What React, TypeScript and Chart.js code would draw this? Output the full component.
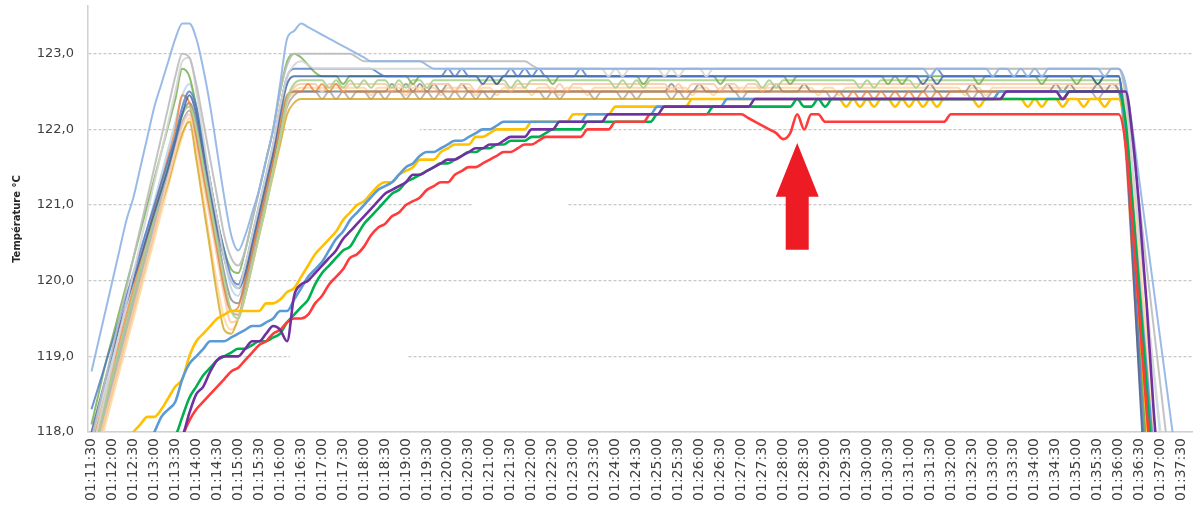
import React, { useEffect, useRef } from 'react';
import { Chart, registerables } from 'chart.js';

Chart.register(...registerables);

// ---------- categories (10 s samples, 01:11:30 -> 01:37:40) ----------
const startSec = 1 * 3600 + 11 * 60 + 30;
const timeLabels: string[] = Array.from({ length: 158 }, (_, i) => {
  const t = startSec + i * 10;
  const h = Math.floor(t / 3600);
  const m = Math.floor((t % 3600) / 60);
  const s = t % 60;
  const p = (n: number) => String(n).padStart(2, '0');
  return `${p(h)}:${p(m)}:${p(s)}`;
});

const yTicks = [118, 119, 120, 121, 122, 123];

// ---------- thin sensor series ----------
const sLightBlue = [
  118.8,119.2,119.6,120.0,120.4,120.8,121.1,121.5,121.9,122.3,
  122.6,122.9,123.2,123.4,123.4,123.2,122.8,122.3,121.7,121.1,
  120.6,120.4,120.6,120.9,121.2,121.6,122.0,122.6,123.2,123.3,
  123.4,123.35,123.3,123.25,123.2,123.15,123.1,123.05,123.0,122.95,
  122.9,122.9,122.9,122.9,122.9,122.9,122.9,122.9,122.85,122.8,
  122.8,122.8,122.8,122.8,122.8,122.8,122.8,122.8,122.8,122.8,
  122.8,122.8,122.8,122.8,122.8,122.8,122.8,122.8,122.8,122.8,
  122.8,122.8,122.8,122.8,122.8,122.8,122.8,122.8,122.8,122.8,
  122.8,122.8,122.8,122.8,122.8,122.8,122.8,122.8,122.8,122.8,
  122.8,122.8,122.8,122.8,122.8,122.8,122.8,122.8,122.8,122.8,
  122.8,122.8,122.8,122.8,122.8,122.8,122.8,122.8,122.8,122.8,
  122.8,122.8,122.8,122.8,122.8,122.8,122.8,122.8,122.8,122.8,
  122.7,122.8,122.8,122.8,122.8,122.8,122.8,122.8,122.8,122.7,
  122.8,122.8,122.7,122.8,122.7,122.8,122.7,122.8,122.8,122.8,
  122.8,122.8,122.8,122.8,122.8,122.7,122.8,122.8,122.6,122.0,
  121.3,120.6,119.9,119.2,118.5,117.8,117.1,116.4,
];
const sGrey = [
  117.9,118.3,118.7,119.1,119.5,119.9,120.3,120.7,121.1,121.5,
  121.9,122.3,122.7,123.0,122.95,122.6,122.1,121.6,121.1,120.6,
  120.3,120.2,120.4,120.8,121.2,121.6,122.0,122.5,122.85,123.0,
  123.0,123.0,123.0,123.0,123.0,123.0,123.0,123.0,122.95,122.9,
  122.9,122.9,122.9,122.9,122.9,122.9,122.9,122.9,122.9,122.9,
  122.9,122.9,122.9,122.9,122.9,122.9,122.9,122.9,122.9,122.9,
  122.9,122.9,122.9,122.85,122.8,122.8,122.8,122.8,122.8,122.8,
  122.8,122.8,122.8,122.8,122.8,122.8,122.8,122.8,122.8,122.8,
  122.8,122.8,122.8,122.8,122.8,122.8,122.8,122.8,122.8,122.8,
  122.8,122.8,122.8,122.8,122.8,122.8,122.8,122.8,122.8,122.8,
  122.8,122.8,122.8,122.8,122.8,122.8,122.8,122.8,122.8,122.8,
  122.8,122.8,122.8,122.8,122.8,122.8,122.8,122.8,122.8,122.8,
  122.8,122.8,122.8,122.8,122.8,122.8,122.8,122.8,122.8,122.8,
  122.8,122.8,122.8,122.8,122.8,122.8,122.8,122.8,122.8,122.8,
  122.8,122.8,122.8,122.8,122.8,122.8,122.8,122.8,122.5,121.8,
  121.0,120.2,119.4,118.6,117.8,117.0,116.2,115.4,
];
const sLightGrey = [
  117.7,118.1,118.5,118.9,119.3,119.7,120.1,120.5,120.9,121.3,
  121.7,122.1,122.5,122.9,122.95,122.5,121.9,121.3,120.8,120.3,
  120.0,119.9,120.2,120.6,121.0,121.4,121.8,122.3,122.7,122.85,
  122.9,122.85,122.8,122.8,122.8,122.8,122.8,122.8,122.8,122.8,
  122.8,122.8,122.8,122.8,122.8,122.8,122.8,122.8,122.8,122.8,
  122.8,122.8,122.8,122.8,122.8,122.8,122.8,122.8,122.8,122.8,
  122.8,122.8,122.8,122.8,122.8,122.8,122.8,122.8,122.8,122.8,
  122.8,122.8,122.8,122.8,122.7,122.8,122.7,122.8,122.8,122.8,
  122.8,122.8,122.7,122.8,122.7,122.8,122.8,122.8,122.7,122.8,
  122.8,122.8,122.8,122.8,122.8,122.8,122.8,122.8,122.8,122.8,
  122.8,122.8,122.8,122.8,122.8,122.8,122.8,122.8,122.8,122.8,
  122.8,122.8,122.8,122.8,122.8,122.8,122.8,122.8,122.8,122.8,
  122.8,122.8,122.8,122.8,122.8,122.8,122.8,122.8,122.8,122.8,
  122.8,122.8,122.8,122.8,122.8,122.8,122.8,122.8,122.8,122.8,
  122.8,122.8,122.8,122.8,122.8,122.8,122.8,122.8,122.4,121.5,
  120.6,119.7,118.85,118.0,117.1,116.2,115.3,114.4,
];
const sBlue = [
  118.3,118.6,118.9,119.2,119.5,119.8,120.1,120.4,120.7,121.0,
  121.3,121.6,121.9,122.3,122.5,122.3,121.8,121.3,120.8,120.4,
  120.05,119.95,120.2,120.6,121.0,121.4,121.8,122.3,122.7,122.8,
  122.8,122.8,122.8,122.8,122.8,122.8,122.8,122.8,122.8,122.8,
  122.8,122.75,122.7,122.7,122.7,122.7,122.7,122.7,122.7,122.7,
  122.7,122.8,122.7,122.8,122.7,122.7,122.7,122.7,122.7,122.7,
  122.8,122.7,122.8,122.7,122.8,122.7,122.7,122.7,122.7,122.7,
  122.8,122.7,122.7,122.7,122.7,122.7,122.7,122.7,122.7,122.7,
  122.7,122.7,122.7,122.7,122.7,122.7,122.7,122.7,122.7,122.7,
  122.7,122.7,122.7,122.7,122.7,122.7,122.7,122.7,122.7,122.7,
  122.7,122.7,122.7,122.7,122.7,122.7,122.7,122.7,122.7,122.7,
  122.7,122.7,122.7,122.7,122.7,122.7,122.7,122.7,122.7,122.7,
  122.7,122.8,122.7,122.7,122.7,122.7,122.7,122.7,122.7,122.7,
  122.7,122.7,122.7,122.7,122.7,122.7,122.7,122.7,122.7,122.7,
  122.7,122.7,122.7,122.7,122.7,122.7,122.7,122.7,121.9,120.5,
  118.9,117.3,116.0,115.0,114.5,114.0,113.5,113.0,
];
const sDarkBlue = [
  118.0,118.35,118.7,119.05,119.4,119.7,120.0,120.3,120.6,120.9,
  121.2,121.5,121.85,122.2,122.45,122.2,121.7,121.2,120.7,120.3,
  120.0,119.9,120.1,120.5,120.9,121.3,121.7,122.2,122.6,122.7,
  122.7,122.7,122.7,122.7,122.7,122.7,122.7,122.7,122.7,122.7,
  122.7,122.7,122.7,122.7,122.7,122.7,122.7,122.7,122.7,122.7,
  122.7,122.7,122.7,122.7,122.7,122.7,122.6,122.7,122.6,122.7,
  122.7,122.7,122.7,122.7,122.7,122.7,122.7,122.7,122.7,122.7,
  122.7,122.7,122.7,122.7,122.7,122.7,122.7,122.7,122.7,122.7,
  122.7,122.7,122.7,122.7,122.7,122.7,122.7,122.7,122.7,122.7,
  122.7,122.7,122.7,122.7,122.7,122.7,122.7,122.7,122.7,122.7,
  122.7,122.7,122.7,122.7,122.7,122.7,122.7,122.7,122.7,122.7,
  122.7,122.7,122.7,122.7,122.7,122.7,122.7,122.7,122.7,122.6,
  122.7,122.6,122.7,122.7,122.7,122.7,122.7,122.7,122.7,122.7,
  122.7,122.7,122.7,122.7,122.7,122.7,122.7,122.7,122.7,122.7,
  122.7,122.7,122.7,122.7,122.6,122.7,122.7,122.7,121.8,120.3,
  118.6,117.0,115.8,115.0,114.5,114.0,113.5,113.0,
];
const sGreen = [
  118.1,118.5,118.9,119.25,119.6,119.95,120.3,120.65,121.0,121.35,
  121.7,122.05,122.4,122.8,122.7,122.3,121.8,121.3,120.8,120.4,
  120.15,120.1,120.4,120.8,121.2,121.6,122.0,122.5,122.9,123.0,
  122.95,122.85,122.75,122.7,122.7,122.7,122.6,122.7,122.7,122.7,
  122.7,122.7,122.7,122.7,122.7,122.7,122.6,122.7,122.7,122.7,
  122.7,122.7,122.7,122.7,122.7,122.7,122.7,122.7,122.6,122.7,
  122.7,122.7,122.7,122.7,122.7,122.7,122.6,122.7,122.7,122.7,
  122.7,122.7,122.7,122.7,122.7,122.7,122.7,122.7,122.7,122.6,
  122.7,122.7,122.7,122.7,122.7,122.7,122.7,122.7,122.7,122.7,
  122.6,122.7,122.7,122.7,122.7,122.7,122.7,122.7,122.7,122.7,
  122.6,122.7,122.7,122.7,122.7,122.7,122.7,122.7,122.7,122.7,
  122.7,122.7,122.7,122.7,122.6,122.7,122.6,122.7,122.7,122.7,
  122.7,122.7,122.7,122.7,122.7,122.7,122.7,122.6,122.7,122.7,
  122.7,122.7,122.7,122.7,122.7,122.7,122.6,122.7,122.7,122.7,
  122.7,122.6,122.7,122.7,122.6,122.7,122.7,122.7,122.0,120.7,
  119.2,117.7,116.4,115.5,115.0,114.5,114.0,113.5,
];
const sLightGreen = [
  117.6,118.0,118.4,118.75,119.1,119.45,119.8,120.15,120.5,120.85,
  121.2,121.55,121.9,122.2,122.3,122.0,121.5,121.0,120.5,120.0,
  119.6,119.5,119.8,120.2,120.6,121.0,121.45,121.9,122.4,122.6,
  122.65,122.65,122.65,122.65,122.55,122.65,122.55,122.65,122.55,122.65,
  122.55,122.65,122.65,122.55,122.65,122.55,122.65,122.65,122.55,122.65,
  122.65,122.65,122.65,122.65,122.65,122.65,122.65,122.65,122.65,122.65,
  122.55,122.65,122.55,122.65,122.65,122.65,122.65,122.65,122.65,122.65,
  122.65,122.65,122.65,122.65,122.65,122.55,122.65,122.55,122.65,122.55,
  122.65,122.65,122.65,122.65,122.65,122.65,122.65,122.65,122.65,122.65,
  122.65,122.65,122.65,122.65,122.65,122.65,122.55,122.65,122.55,122.65,
  122.65,122.65,122.65,122.65,122.65,122.65,122.65,122.65,122.65,122.65,
  122.55,122.65,122.55,122.65,122.65,122.65,122.65,122.65,122.55,122.65,
  122.65,122.65,122.65,122.65,122.65,122.65,122.65,122.65,122.65,122.65,
  122.65,122.65,122.65,122.65,122.65,122.65,122.65,122.65,122.65,122.65,
  122.65,122.65,122.65,122.65,122.65,122.65,122.65,122.65,122.1,121.0,
  119.7,118.4,117.1,116.0,115.5,115.0,114.5,114.0,
];
const sOrange = [
  117.8,118.15,118.5,118.85,119.2,119.55,119.9,120.25,120.6,120.95,
  121.3,121.65,122.0,122.45,122.35,121.9,121.4,120.9,120.4,119.9,
  119.6,119.65,120.0,120.4,120.8,121.2,121.6,122.1,122.45,122.5,
  122.5,122.6,122.5,122.6,122.5,122.6,122.5,122.5,122.5,122.5,
  122.5,122.5,122.5,122.5,122.5,122.5,122.5,122.5,122.5,122.5,
  122.5,122.5,122.5,122.5,122.5,122.5,122.5,122.5,122.5,122.5,
  122.5,122.5,122.5,122.5,122.5,122.5,122.5,122.5,122.5,122.5,
  122.5,122.5,122.5,122.5,122.5,122.5,122.5,122.5,122.5,122.5,
  122.5,122.5,122.5,122.5,122.5,122.5,122.5,122.5,122.5,122.5,
  122.5,122.5,122.5,122.5,122.5,122.5,122.5,122.5,122.5,122.5,
  122.5,122.5,122.5,122.5,122.5,122.5,122.5,122.5,122.4,122.5,
  122.4,122.5,122.4,122.5,122.4,122.5,122.4,122.5,122.4,122.5,
  122.4,122.5,122.4,122.5,122.5,122.5,122.5,122.5,122.5,122.5,
  122.5,122.5,122.5,122.5,122.5,122.5,122.5,122.5,122.5,122.5,
  122.5,122.5,122.5,122.5,122.5,122.5,122.5,122.5,121.7,120.2,
  118.7,117.2,116.0,115.5,115.0,114.5,114.0,113.5,
];
const sPeach = [
  117.5,117.85,118.2,118.55,118.9,119.25,119.6,119.95,120.3,120.65,
  121.0,121.35,121.7,122.05,122.2,121.8,121.3,120.8,120.3,119.8,
  119.45,119.5,119.8,120.2,120.6,121.0,121.45,121.9,122.35,122.55,
  122.6,122.6,122.6,122.5,122.6,122.6,122.5,122.6,122.6,122.6,
  122.6,122.6,122.6,122.5,122.6,122.5,122.6,122.5,122.6,122.6,
  122.6,122.6,122.5,122.6,122.6,122.5,122.6,122.6,122.6,122.6,
  122.5,122.6,122.6,122.6,122.6,122.6,122.5,122.6,122.5,122.6,
  122.6,122.6,122.6,122.6,122.6,122.6,122.6,122.6,122.6,122.6,
  122.6,122.6,122.6,122.5,122.6,122.5,122.6,122.6,122.6,122.6,
  122.5,122.6,122.6,122.5,122.6,122.6,122.5,122.6,122.6,122.6,
  122.6,122.6,122.6,122.6,122.6,122.6,122.6,122.6,122.6,122.6,
  122.6,122.6,122.6,122.6,122.6,122.6,122.6,122.6,122.6,122.6,
  122.6,122.6,122.6,122.6,122.6,122.6,122.6,122.6,122.6,122.6,
  122.6,122.6,122.6,122.6,122.6,122.6,122.6,122.6,122.6,122.6,
  122.6,122.6,122.6,122.6,122.6,122.6,122.6,122.6,122.2,121.2,
  120.1,119.0,117.9,116.8,116.0,115.5,115.0,114.5,
];
const sDarkYellow = [
  117.5,117.85,118.2,118.55,118.9,119.25,119.6,119.95,120.3,120.65,
  121.0,121.3,121.65,121.95,122.1,121.6,121.0,120.4,119.8,119.35,
  119.3,119.5,119.8,120.2,120.6,121.0,121.4,121.8,122.2,122.35,
  122.4,122.4,122.4,122.4,122.4,122.4,122.4,122.4,122.4,122.4,
  122.4,122.4,122.4,122.4,122.4,122.4,122.4,122.4,122.4,122.4,
  122.4,122.4,122.4,122.4,122.4,122.4,122.4,122.4,122.4,122.4,
  122.4,122.4,122.4,122.4,122.4,122.4,122.4,122.4,122.4,122.4,
  122.4,122.4,122.4,122.4,122.4,122.4,122.4,122.4,122.4,122.4,
  122.4,122.4,122.4,122.4,122.4,122.4,122.4,122.4,122.4,122.4,
  122.4,122.4,122.4,122.4,122.4,122.4,122.4,122.4,122.4,122.4,
  122.4,122.4,122.4,122.4,122.4,122.4,122.4,122.4,122.4,122.4,
  122.4,122.4,122.4,122.4,122.4,122.4,122.4,122.4,122.4,122.4,
  122.4,122.4,122.4,122.4,122.4,122.4,122.4,122.4,122.4,122.4,
  122.4,122.4,122.4,122.4,122.4,122.4,122.4,122.4,122.4,122.4,
  122.4,122.4,122.4,122.4,122.4,122.4,122.4,122.4,121.9,120.6,
  119.2,117.8,116.5,115.5,115.0,114.5,114.0,113.5,
];
const sDarkGrey = [
  117.7,118.05,118.4,118.75,119.1,119.45,119.8,120.15,120.5,120.85,
  121.2,121.55,121.9,122.2,122.35,122.1,121.6,121.1,120.6,120.1,
  119.75,119.7,120.0,120.4,120.8,121.2,121.6,122.0,122.4,122.5,
  122.5,122.5,122.5,122.5,122.5,122.5,122.5,122.5,122.5,122.5,
  122.5,122.5,122.5,122.6,122.5,122.6,122.5,122.6,122.5,122.6,
  122.5,122.6,122.5,122.6,122.5,122.5,122.5,122.5,122.5,122.5,
  122.5,122.5,122.5,122.5,122.5,122.5,122.5,122.5,122.5,122.5,
  122.5,122.5,122.5,122.5,122.5,122.5,122.5,122.5,122.5,122.5,
  122.5,122.5,122.5,122.6,122.5,122.5,122.5,122.6,122.5,122.5,
  122.5,122.6,122.5,122.5,122.5,122.5,122.5,122.5,122.6,122.5,
  122.5,122.5,122.6,122.5,122.5,122.5,122.5,122.5,122.5,122.5,
  122.5,122.5,122.5,122.5,122.5,122.5,122.5,122.5,122.5,122.5,
  122.6,122.5,122.5,122.5,122.5,122.5,122.6,122.5,122.5,122.5,
  122.5,122.5,122.5,122.5,122.5,122.5,122.5,122.5,122.6,122.5,
  122.6,122.5,122.5,122.5,122.6,122.5,122.6,122.5,122.0,120.9,
  119.7,118.5,117.3,116.2,115.5,115.0,114.5,114.0,
];
const sMidGrey = [
  117.6,117.95,118.3,118.65,119.0,119.35,119.7,120.05,120.4,120.75,
  121.1,121.45,121.8,122.1,122.25,121.9,121.4,120.9,120.4,119.9,
  119.6,119.55,119.9,120.3,120.7,121.1,121.5,121.9,122.3,122.45,
  122.5,122.5,122.5,122.4,122.5,122.4,122.5,122.4,122.5,122.5,
  122.4,122.5,122.4,122.5,122.5,122.4,122.5,122.4,122.5,122.4,
  122.5,122.4,122.5,122.4,122.5,122.4,122.5,122.4,122.5,122.5,
  122.5,122.5,122.5,122.5,122.5,122.4,122.5,122.4,122.5,122.5,
  122.5,122.5,122.4,122.5,122.5,122.5,122.4,122.5,122.4,122.5,
  122.5,122.5,122.5,122.4,122.5,122.4,122.5,122.5,122.5,122.5,
  122.5,122.5,122.5,122.4,122.5,122.5,122.5,122.5,122.5,122.5,
  122.5,122.5,122.5,122.5,122.5,122.5,122.4,122.5,122.5,122.5,
  122.5,122.5,122.5,122.5,122.5,122.5,122.5,122.5,122.5,122.5,
  122.5,122.5,122.5,122.5,122.5,122.5,122.4,122.5,122.4,122.5,
  122.5,122.5,122.5,122.5,122.5,122.5,122.5,122.5,122.5,122.5,
  122.5,122.5,122.5,122.5,122.4,122.5,122.5,122.5,122.1,121.1,
  120.0,118.9,117.8,116.7,116.0,115.5,115.0,114.5,
];
const sPaleBlue = [
  117.9,118.25,118.6,118.95,119.3,119.65,120.0,120.35,120.7,121.05,
  121.4,121.75,122.1,122.45,122.6,122.3,121.8,121.3,120.8,120.3,
  119.9,119.8,120.1,120.5,120.9,121.3,121.7,122.1,122.45,122.5,
  122.5,122.5,122.5,122.5,122.5,122.5,122.5,122.5,122.5,122.5,
  122.5,122.5,122.5,122.5,122.5,122.5,122.5,122.5,122.5,122.5,
  122.5,122.5,122.5,122.5,122.5,122.5,122.5,122.5,122.5,122.5,
  122.5,122.5,122.5,122.5,122.5,122.5,122.5,122.5,122.5,122.5,
  122.5,122.5,122.5,122.5,122.5,122.5,122.5,122.5,122.5,122.5,
  122.5,122.5,122.5,122.5,122.5,122.5,122.5,122.5,122.5,122.5,
  122.5,122.5,122.5,122.5,122.5,122.5,122.5,122.5,122.5,122.5,
  122.5,122.5,122.5,122.5,122.5,122.5,122.5,122.5,122.5,122.5,
  122.5,122.5,122.5,122.5,122.5,122.5,122.5,122.5,122.5,122.5,
  122.5,122.5,122.5,122.5,122.5,122.5,122.5,122.5,122.5,122.5,
  122.5,122.5,122.5,122.5,122.5,122.5,122.5,122.5,122.5,122.5,
  122.5,122.5,122.5,122.5,122.5,122.5,122.5,122.5,122.3,121.5,
  120.6,119.7,118.8,117.9,117.0,116.2,115.5,115.0,
];
const sPaleOrange = [
  117.4,117.75,118.1,118.45,118.8,119.15,119.5,119.85,120.2,120.55,
  120.9,121.25,121.6,121.9,122.15,121.7,121.1,120.5,119.95,119.5,
  119.35,119.5,119.85,120.25,120.65,121.05,121.5,121.95,122.35,122.5,
  122.55,122.55,122.55,122.55,122.55,122.55,122.55,122.55,122.55,122.55,
  122.45,122.55,122.55,122.55,122.55,122.45,122.55,122.55,122.55,122.55,
  122.45,122.55,122.55,122.55,122.55,122.45,122.55,122.55,122.45,122.55,
  122.55,122.55,122.55,122.45,122.55,122.55,122.55,122.45,122.55,122.55,
  122.55,122.45,122.55,122.55,122.55,122.55,122.55,122.55,122.55,122.55,
  122.55,122.55,122.55,122.55,122.55,122.55,122.45,122.55,122.55,122.45,
  122.55,122.55,122.55,122.55,122.55,122.55,122.55,122.55,122.55,122.55,
  122.55,122.55,122.55,122.55,122.45,122.55,122.55,122.45,122.55,122.55,
  122.55,122.55,122.55,122.55,122.55,122.55,122.55,122.55,122.55,122.55,
  122.55,122.55,122.55,122.55,122.55,122.45,122.55,122.55,122.45,122.55,
  122.55,122.55,122.55,122.55,122.55,122.55,122.55,122.55,122.55,122.55,
  122.55,122.55,122.55,122.55,122.55,122.55,122.55,122.55,122.2,121.3,
  120.3,119.3,118.3,117.3,116.4,115.6,115.0,114.5,
];

// ---------- thick probe series ----------
const pYellow = [
  117.3,117.4,117.5,117.6,117.7,117.85,118.0,118.1,118.2,118.2,
  118.3,118.45,118.6,118.7,119.0,119.2,119.3,119.4,119.5,119.55,
  119.6,119.6,119.6,119.6,119.6,119.7,119.7,119.75,119.85,119.9,
  120.05,120.2,120.35,120.45,120.55,120.65,120.8,120.9,121.0,121.05,
  121.15,121.25,121.3,121.3,121.4,121.45,121.5,121.6,121.6,121.6,
  121.7,121.75,121.8,121.8,121.8,121.9,121.9,121.95,122.0,122.0,
  122.0,122.0,122.0,122.1,122.1,122.1,122.1,122.1,122.1,122.2,
  122.2,122.2,122.2,122.2,122.2,122.3,122.3,122.3,122.3,122.3,
  122.3,122.3,122.3,122.3,122.3,122.3,122.4,122.4,122.4,122.4,
  122.4,122.4,122.4,122.4,122.4,122.4,122.4,122.4,122.4,122.4,
  122.4,122.4,122.4,122.4,122.4,122.4,122.4,122.4,122.3,122.4,
  122.3,122.4,122.3,122.4,122.4,122.3,122.4,122.3,122.4,122.3,
  122.4,122.3,122.4,122.4,122.4,122.4,122.4,122.3,122.4,122.4,
  122.4,122.4,122.4,122.4,122.3,122.4,122.3,122.4,122.4,122.3,
  122.4,122.4,122.3,122.4,122.4,122.3,122.4,122.4,122.0,120.8,
  119.5,118.2,117.0,116.0,115.5,115.0,114.5,114.0,
];
const pBlue = [
  117.0,117.1,117.2,117.3,117.4,117.5,117.6,117.7,117.85,118.0,
  118.2,118.3,118.4,118.7,118.9,119.0,119.1,119.2,119.2,119.2,
  119.25,119.3,119.35,119.4,119.4,119.45,119.5,119.6,119.6,119.75,
  119.9,120.05,120.15,120.25,120.4,120.55,120.65,120.8,120.9,121.0,
  121.1,121.2,121.25,121.3,121.4,121.5,121.55,121.65,121.7,121.7,
  121.75,121.8,121.85,121.85,121.9,121.95,122.0,122.0,122.05,122.1,
  122.1,122.1,122.1,122.1,122.1,122.1,122.1,122.1,122.1,122.1,
  122.1,122.2,122.2,122.2,122.2,122.2,122.2,122.2,122.2,122.2,
  122.2,122.3,122.3,122.3,122.3,122.3,122.3,122.3,122.3,122.3,
  122.3,122.4,122.4,122.4,122.4,122.4,122.4,122.4,122.4,122.4,
  122.4,122.4,122.4,122.4,122.4,122.4,122.4,122.4,122.4,122.4,
  122.4,122.4,122.4,122.4,122.4,122.4,122.4,122.4,122.4,122.4,
  122.4,122.4,122.4,122.4,122.4,122.4,122.4,122.4,122.4,122.4,
  122.5,122.5,122.5,122.5,122.5,122.5,122.5,122.5,122.5,122.5,
  122.5,122.5,122.5,122.5,122.5,122.5,122.5,122.5,122.0,121.0,
  119.9,118.8,117.7,116.8,116.0,115.5,115.0,114.5,
];
const pGreen = [
  116.8,116.9,117.0,117.1,117.2,117.3,117.4,117.5,117.6,117.7,
  117.8,117.9,117.95,118.2,118.45,118.6,118.75,118.85,118.95,119.0,
  119.05,119.1,119.1,119.15,119.2,119.2,119.25,119.3,119.45,119.55,
  119.65,119.75,119.95,120.1,120.2,120.3,120.4,120.45,120.6,120.75,
  120.85,120.95,121.05,121.15,121.2,121.3,121.35,121.4,121.45,121.5,
  121.55,121.55,121.6,121.65,121.7,121.7,121.75,121.75,121.8,121.8,
  121.85,121.85,121.85,121.9,121.9,121.95,122.0,122.0,122.0,122.0,
  122.0,122.1,122.1,122.1,122.1,122.1,122.1,122.1,122.1,122.1,
  122.1,122.2,122.2,122.2,122.2,122.2,122.2,122.2,122.2,122.3,
  122.3,122.3,122.3,122.3,122.3,122.3,122.3,122.3,122.3,122.3,
  122.3,122.4,122.3,122.3,122.4,122.3,122.4,122.4,122.4,122.4,
  122.4,122.4,122.4,122.4,122.4,122.4,122.4,122.4,122.4,122.4,
  122.4,122.4,122.4,122.4,122.4,122.4,122.4,122.4,122.4,122.4,
  122.4,122.4,122.4,122.4,122.4,122.4,122.4,122.4,122.4,122.4,
  122.5,122.5,122.5,122.5,122.5,122.5,122.5,122.5,122.1,121.0,
  119.8,118.6,117.4,116.5,116.0,115.5,115.0,114.5,
];
const pPurple = [
  116.8,116.9,117.0,117.1,117.2,117.3,117.4,117.5,117.6,117.7,
  117.8,117.85,117.9,117.95,118.25,118.5,118.6,118.8,118.95,119.0,
  119.0,119.0,119.1,119.2,119.2,119.3,119.4,119.35,119.2,119.8,
  119.95,120.0,120.1,120.2,120.3,120.4,120.55,120.65,120.75,120.85,
  120.95,121.05,121.15,121.2,121.25,121.3,121.4,121.4,121.45,121.5,
  121.55,121.6,121.6,121.65,121.7,121.75,121.75,121.8,121.8,121.85,
  121.9,121.9,121.9,122.0,122.0,122.0,122.0,122.1,122.1,122.1,
  122.1,122.1,122.1,122.1,122.2,122.2,122.2,122.2,122.2,122.2,
  122.2,122.2,122.3,122.3,122.3,122.3,122.3,122.3,122.3,122.3,
  122.3,122.3,122.3,122.3,122.3,122.4,122.4,122.4,122.4,122.4,
  122.4,122.4,122.4,122.4,122.4,122.4,122.4,122.4,122.4,122.4,
  122.4,122.4,122.4,122.4,122.4,122.4,122.4,122.4,122.4,122.4,
  122.4,122.4,122.4,122.4,122.4,122.4,122.4,122.4,122.4,122.4,
  122.4,122.5,122.5,122.5,122.5,122.5,122.5,122.5,122.5,122.4,
  122.5,122.5,122.5,122.5,122.5,122.5,122.5,122.5,122.5,121.9,
  120.9,119.7,118.3,117.2,116.5,116.0,115.5,115.0,
];
const pRed = [
  116.6,116.7,116.8,116.9,117.0,117.1,117.2,117.3,117.4,117.5,
  117.6,117.7,117.8,117.95,118.15,118.3,118.4,118.5,118.6,118.7,
  118.8,118.85,118.95,119.05,119.15,119.2,119.3,119.35,119.45,119.5,
  119.5,119.55,119.7,119.8,119.95,120.05,120.15,120.3,120.35,120.45,
  120.6,120.7,120.75,120.85,120.9,121.0,121.05,121.1,121.2,121.25,
  121.3,121.3,121.4,121.45,121.5,121.5,121.55,121.6,121.65,121.7,
  121.7,121.75,121.8,121.8,121.85,121.9,121.9,121.9,121.9,121.9,
  121.9,122.0,122.0,122.0,122.0,122.1,122.1,122.1,122.1,122.1,
  122.2,122.2,122.2,122.2,122.2,122.2,122.2,122.2,122.2,122.2,
  122.2,122.2,122.2,122.2,122.15,122.1,122.05,122.0,121.95,121.87,
  121.95,122.2,122.0,122.2,122.2,122.1,122.1,122.1,122.1,122.1,
  122.1,122.1,122.1,122.1,122.1,122.1,122.1,122.1,122.1,122.1,
  122.1,122.1,122.1,122.2,122.2,122.2,122.2,122.2,122.2,122.2,
  122.2,122.2,122.2,122.2,122.2,122.2,122.2,122.2,122.2,122.2,
  122.2,122.2,122.2,122.2,122.2,122.2,122.2,122.2,121.8,120.7,
  119.5,118.3,117.2,116.5,116.0,115.5,115.0,114.5,
];

const thinSeries = [
  { name: 'S1', data: sLightBlue, color: 'rgba(142,180,227,0.9)' },
  { name: 'S2', data: sGrey, color: 'rgba(188,188,188,0.9)' },
  { name: 'S3', data: sLightGrey, color: 'rgba(214,214,214,0.9)' },
  { name: 'S4', data: sBlue, color: 'rgba(74,120,200,0.8)' },
  { name: 'S5', data: sDarkBlue, color: 'rgba(47,85,151,0.75)' },
  { name: 'S6', data: sGreen, color: 'rgba(112,173,71,0.8)' },
  { name: 'S7', data: sLightGreen, color: 'rgba(169,209,142,0.9)' },
  { name: 'S8', data: sOrange, color: 'rgba(237,125,49,0.75)' },
  { name: 'S9', data: sPeach, color: 'rgba(248,203,173,0.9)' },
  { name: 'S10', data: sDarkYellow, color: 'rgba(214,165,30,0.8)' },
  { name: 'S11', data: sDarkGrey, color: 'rgba(110,110,110,0.65)' },
  { name: 'S12', data: sMidGrey, color: 'rgba(165,165,165,0.8)' },
  { name: 'S13', data: sPaleBlue, color: 'rgba(189,215,238,0.9)' },
  { name: 'S14', data: sPaleOrange, color: 'rgba(255,217,160,0.9)' },
];

// drawn on top first
const thickSeries = [
  { name: 'P-violet', data: pPurple, color: '#7030A0' },
  { name: 'P-rouge', data: pRed, color: '#FF3B3B' },
  { name: 'P-vert', data: pGreen, color: '#00B050' },
  { name: 'P-bleu', data: pBlue, color: '#5B9BD5' },
  { name: 'P-jaune', data: pYellow, color: '#FFC000' },
];

// grid line interruptions [value, from index, to index]
const gridGaps = [
  { value: 122, from: 31.7, to: 47.0 },
  { value: 121, from: 54.6, to: 68.2 },
  { value: 119, from: 28.4, to: 45.3 },
];

const arrow = { index: 101.0, tip: 121.82, headBase: 121.11, bottom: 120.41, headHalf: 21.5, shaftHalf: 11.5, color: '#ED1C24' };

const gapPlugin = {
  id: 'gridGaps',
  beforeDatasetsDraw(chart: any) {
    const { ctx, scales } = chart;
    const xs = scales.x, ys = scales.y;
    ctx.save();
    ctx.fillStyle = '#ffffff';
    gridGaps.forEach((g) => {
      const y = ys.getPixelForValue(g.value);
      const x1 = xs.getPixelForValue(g.from);
      const x2 = xs.getPixelForValue(g.to);
      ctx.fillRect(x1, y - 2, x2 - x1, 4);
    });
    ctx.restore();
  },
};

const arrowPlugin = {
  id: 'redArrow',
  afterDatasetsDraw(chart: any) {
    const { ctx, scales } = chart;
    const x = scales.x.getPixelForValue(arrow.index);
    const yt = scales.y.getPixelForValue(arrow.tip);
    const yh = scales.y.getPixelForValue(arrow.headBase);
    const yb = scales.y.getPixelForValue(arrow.bottom);
    ctx.save();
    ctx.fillStyle = arrow.color;
    ctx.beginPath();
    ctx.moveTo(x, yt);
    ctx.lineTo(x + arrow.headHalf, yh);
    ctx.lineTo(x + arrow.shaftHalf, yh);
    ctx.lineTo(x + arrow.shaftHalf, yb);
    ctx.lineTo(x - arrow.shaftHalf, yb);
    ctx.lineTo(x - arrow.shaftHalf, yh);
    ctx.lineTo(x - arrow.headHalf, yh);
    ctx.closePath();
    ctx.fill();
    ctx.restore();
  },
};

export default function App() {
  const ref = useRef<HTMLCanvasElement | null>(null);

  useEffect(() => {
    document.body.style.margin = '0';
    if (!ref.current) return;
    const datasets: any[] = [];
    thickSeries.forEach((s) => {
      datasets.push({
        label: s.name,
        data: s.data,
        borderColor: s.color,
        backgroundColor: s.color,
        borderWidth: 2.6,
        pointRadius: 0,
        cubicInterpolationMode: 'monotone',
        fill: false,
      });
    });
    thinSeries.forEach((s) => {
      datasets.push({
        label: s.name,
        data: s.data,
        borderColor: s.color,
        backgroundColor: s.color,
        borderWidth: 2,
        pointRadius: 0,
        cubicInterpolationMode: 'monotone',
        fill: false,
      });
    });

    const chart = new Chart(ref.current, {
      type: 'line',
      data: { labels: timeLabels, datasets },
      options: {
        responsive: false,
        animation: false,
        devicePixelRatio: 1,
        layout: { padding: { top: 6, right: 3, left: 0, bottom: 0 } },
        plugins: { legend: { display: false }, tooltip: { enabled: false } },
        scales: {
          x: {
            type: 'category',
            offset: true,
            grid: { display: false, drawTicks: false },
            border: { display: true, color: '#D0D0D0', width: 1.5 },
            ticks: {
              autoSkip: false,
              minRotation: 90,
              maxRotation: 90,
              padding: 6,
              color: '#404040',
              font: { family: 'DejaVu Sans', size: 14 },
              callback: (_v: any, i: number) => (i % 3 === 0 ? timeLabels[i] : null),
            },
            afterFit: (scale: any) => {
              scale.height = 74;
              scale.paddingLeft = 0;
              scale.paddingRight = 0;
            },
          },
          y: {
            type: 'linear',
            min: 118,
            max: 123.63,
            afterBuildTicks: (scale: any) => { scale.ticks = yTicks.map((v) => ({ value: v })); },
            grid: { color: '#C8C8C8', lineWidth: 1.2, drawTicks: false },
            border: { display: true, color: '#D0D0D0', width: 1.5, dash: [3, 2] },
            ticks: {
              padding: 14,
              color: '#404040',
              font: { family: 'DejaVu Sans', size: 13 },
              callback: (v: any) => Number(v).toFixed(1).replace('.', ','),
            },
            title: {
              display: true,
              text: 'Température °C',
              color: '#262626',
              font: { family: 'DejaVu Sans', size: 10, weight: 'bold' },
              padding: { top: 11, bottom: 0 },
            },
            afterFit: (scale: any) => {
              scale.width = 88;
              scale.paddingTop = 0;
              scale.paddingBottom = 0;
            },
          },
        },
      },
      plugins: [gapPlugin, arrowPlugin],
    });
    return () => chart.destroy();
  }, []);

  return (
    <div style={{ width: 1195, height: 506, background: '#fff' }}>
      <canvas ref={ref} width={1195} height={506} style={{ display: 'block' }} />
    </div>
  );
}
